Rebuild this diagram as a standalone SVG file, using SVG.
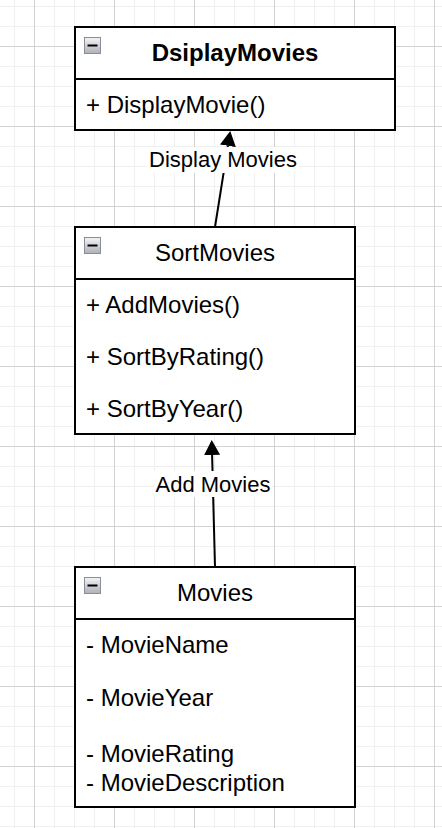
<svg xmlns="http://www.w3.org/2000/svg" width="442" height="828" viewBox="0 0 442 828">
<defs>
<pattern id="minor" patternUnits="userSpaceOnUse" x="14" y="6" width="20" height="20">
<path d="M0 0.5 H20 M0.5 0 V20" fill="none" stroke="#f0f0f0" stroke-width="1"/>
</pattern>
<pattern id="major" patternUnits="userSpaceOnUse" x="34" y="46" width="80" height="80">
<path d="M0 0.5 H80 M0.5 0 V80" fill="none" stroke="#d3d3d3" stroke-width="1"/>
</pattern>
<linearGradient id="btn" x1="0" y1="0" x2="0" y2="1">
<stop offset="0" stop-color="#f4f4f6"/>
<stop offset="1" stop-color="#aeb0b8"/>
</linearGradient>
<marker id="arrow" markerUnits="userSpaceOnUse" markerWidth="16" markerHeight="18" viewBox="0 -9 16 18" refX="0" refY="0" orient="auto">
<path d="M0 -8 L15 0 L0 8 Z" fill="#000"/>
</marker>
</defs>
<style>
.box{fill:#fff;stroke:#000;stroke-width:2}
.sep{stroke:#000;stroke-width:2}
.btn{fill:url(#btn);stroke:#8a8e9c;stroke-width:1}
.minus{stroke:#000;stroke-width:2}
.t{font-family:"Liberation Sans",Arial,Helvetica,sans-serif;font-size:24px;fill:#000}
.title{text-anchor:middle}
.bold{font-weight:bold;font-size:24px}
.lbl{font-family:"Liberation Sans",Arial,Helvetica,sans-serif;font-size:22px;fill:#000;text-anchor:middle}
.edge{fill:none;stroke:#000;stroke-width:2}
</style>
<rect width="442" height="828" fill="#fff"/>
<rect width="442" height="828" fill="url(#minor)"/>
<rect width="442" height="828" fill="url(#major)"/>

<g id="DsiplayMovies">
<rect class="box" x="75" y="27" width="320" height="103"/>
<line class="sep" x1="75" y1="79" x2="395" y2="79"/>
<rect class="btn" x="84.5" y="37.5" width="16" height="16"/>
<line class="minus" x1="87.5" y1="45.5" x2="97.5" y2="45.5"/>
<text class="t title bold" x="235" y="61">DsiplayMovies</text>
<text class="t" x="86" y="113">+ DisplayMovie()</text>
</g>

<g id="SortMovies">
<rect class="box" x="75" y="227" width="280" height="207"/>
<line class="sep" x1="75" y1="279" x2="355" y2="279"/>
<rect class="btn" x="84.5" y="237.5" width="16" height="16"/>
<line class="minus" x1="87.5" y1="245.5" x2="97.5" y2="245.5"/>
<text class="t title" x="215" y="261">SortMovies</text>
<text class="t" x="86" y="313">+ AddMovies()</text>
<text class="t" x="86" y="365">+ SortByRating()</text>
<text class="t" x="86" y="417">+ SortByYear()</text>
</g>

<g id="Movies">
<rect class="box" x="75" y="567" width="280" height="240"/>
<line class="sep" x1="75" y1="619" x2="355" y2="619"/>
<rect class="btn" x="84.5" y="577.5" width="16" height="16"/>
<line class="minus" x1="87.5" y1="585.5" x2="97.5" y2="585.5"/>
<text class="t title" x="215" y="601">Movies</text>
<text class="t" x="86" y="653">- MovieName</text>
<text class="t" x="86" y="706">- MovieYear</text>
<text class="t" x="86" y="762">- MovieRating</text>
<text class="t" x="86" y="791">- MovieDescription</text>
</g>

<g id="connectors">
<path class="edge" d="M215 227 L227.9 145.8" marker-end="url(#arrow)"/>
<rect x="147" y="147" width="152" height="26" fill="#fff"/>
<text class="lbl" x="223" y="167">Display Movies</text>
<path class="edge" d="M215 567 L212.1 455" marker-end="url(#arrow)"/>
<rect x="154" y="471" width="118" height="26" fill="#fff"/>
<text class="lbl" x="213" y="492">Add Movies</text>
</g>
</svg>
